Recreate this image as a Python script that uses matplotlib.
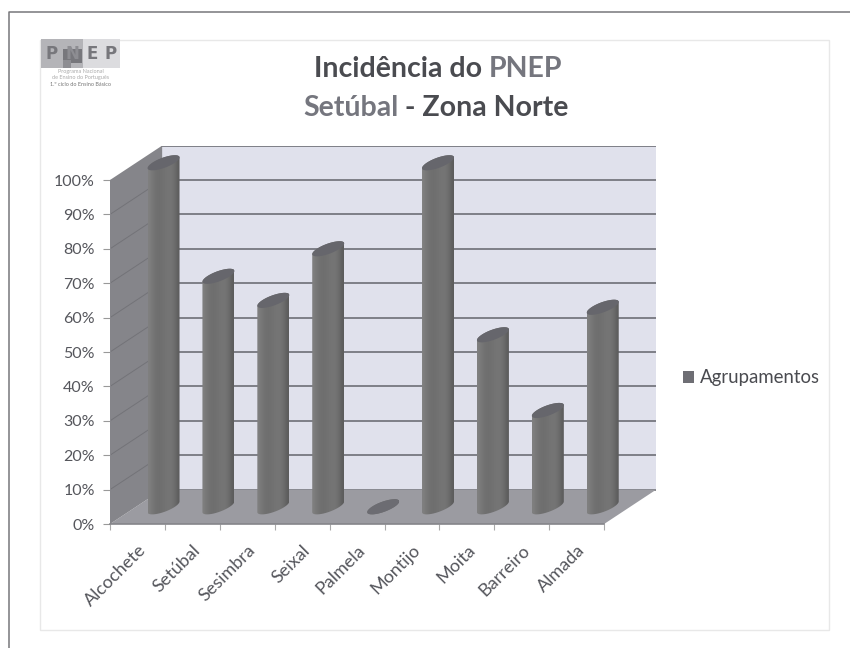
import numpy as np
import matplotlib
matplotlib.use('Agg')
import matplotlib.pyplot as plt
from matplotlib.patches import Polygon, Rectangle, Patch, PathPatch
from matplotlib.path import Path

plt.rcParams['font.family'] = ['Lato', 'DejaVu Sans']

# values
concelhos = ['Alcochete', 'Setúbal', 'Sesimbra', 'Seixal', 'Palmela',
             'Montijo', 'Moita', 'Barreiro', 'Almada']
agrupamentos = [100, 67, 60, 75, 0, 100, 50, 28, 58]
ticks_pct = [0, 10, 20, 30, 40, 50, 60, 70, 80, 90, 100]

W, H = 850, 648
TXT = '#55565c'
DARK = '#4a4b50'
GREY = '#75767e'

fig = plt.figure(figsize=(W / 100, H / 100), dpi=100, facecolor='white')

# page frame and logo, pixel coords
page = fig.add_axes([0, 0, 1, 1], zorder=0)
page.set_xlim(0, W)
page.set_ylim(H, 0)
page.axis('off')
page.plot([9, 9, W], [H, 12, 12], color='#77777a', lw=1.1)
page.add_patch(Rectangle((40, 40), 789, 590, fc='white', ec='#e8e8e8', lw=1))
page.add_patch(Rectangle((41, 39), 79, 29, fc='#dcdcdf', ec='none'))
page.add_patch(Rectangle((41, 39), 42, 29, fc='#b4b4b8', ec='none'))
page.add_patch(Rectangle((63, 49), 19, 14, fc='#77777c', ec='none'))
page.add_patch(Rectangle((63, 60), 8, 8, fc='#8d8d92', ec='none'))
for x, s, c in [(52, 'P', '#77777c'), (72, 'N', '#8d8d92'),
                (92, 'E', '#77777c'), (111, 'P', '#77777c')]:
    page.text(x, 54, s, fontsize=12, fontweight='bold', color=c,
              family='DejaVu Sans', ha='center', va='center')
for y, s, c in [(71, 'Programa Nacional', '#aaaaaa'),
                (78, 'de Ensino do Português', '#aaaaaa'),
                (84.5, '1.º ciclo do Ensino Básico', '#777777')]:
    page.text(80.5, y, s, fontsize=4, color=c, ha='center', va='center')

# titulo com duas cores
def title_line(x, y, parts):
    t = None
    for s, c in parts:
        if t is None:
            t = page.text(x, y, s, fontsize=20.5, fontweight='bold', color=c,
                          va='baseline')
        else:
            t = page.annotate(s, xy=(1, 0), xycoords=t, fontsize=20.5,
                              fontweight='bold', color=c, va='bottom')
    return t

title_line(314, 77, [('Incidência do ', DARK), ('PNEP', GREY)])
title_line(303, 116, [('Setúbal', GREY), (' - Zona Norte', DARK)])

# the 3D look: front plane is x 0..9, y 0..100, depth goes one step back
DX, DY = 0.95, 10
n = len(concelhos)
x0, cat, y0, pct = 110, 54.9, 524, 3.44
ax = fig.add_axes([x0 / W, 1 - y0 / H, cat * (n + DX) / W, pct * (100 + DY) / H],
                  zorder=1)
ax.set_xlim(0, n + DX)
ax.set_ylim(0, 100 + DY)
ax.patch.set_alpha(0)
for s in ['top', 'right', 'left', 'bottom']:
    ax.spines[s].set_visible(False)

ax.add_patch(Polygon([(DX, DY), (n + DX, DY), (n + DX, 100 + DY), (DX, 100 + DY)],
                     fc='#e0e1ec', ec='none', zorder=1))
for v in ticks_pct:
    ax.plot([DX, n + DX], [v + DY, v + DY], color='#6d6e76', lw=1.2, zorder=2)
ax.add_patch(Polygon([(0, 0), (n, 0), (n + DX, DY), (DX, DY)],
                     fc='#9b9ba1', ec='none', zorder=3))
ax.add_patch(Polygon([(0, 0), (DX, DY), (DX, 100 + DY), (0, 100)],
                     fc='#85858a', ec='none', zorder=3))
for v in ticks_pct[1:-1]:
    ax.plot([0, DX], [v, v + DY], color='#737378', lw=0.7, zorder=4)
ax.plot([0, n], [0, 0], color='#85858a', lw=1.2, zorder=4, clip_on=False)
ax.plot([0, 0], [0, 100], color='#85858a', lw=0.8, zorder=4)

# cylinders
RX, SX, SY = 0.206, 0.206, 2.2
shade = np.array([[0.50, 0.46, 0.44, 0.43, 0.44, 0.45, 0.46, 0.45, 0.42, 0.36]])


def rim(cx, v, t):
    return np.column_stack([cx + RX * np.cos(t) + SX * np.sin(t), v + SY * np.sin(t)])


for i, v in enumerate(agrupamentos):
    cx = i + 0.5 + DX / 2
    cy = DY / 2
    low = rim(cx, cy, np.linspace(np.pi / 4, np.pi / 4 - np.pi, 40))
    up = rim(cx, cy + v, np.linspace(np.pi / 4 - np.pi, np.pi / 4 - 2 * np.pi, 40))
    body = Path(np.vstack([low, up, low[:1]]), closed=True)
    hw = np.hypot(RX, SX)
    im = ax.imshow(shade, cmap='gray', vmin=0, vmax=1, aspect='auto',
                   interpolation='bicubic', zorder=5 + i,
                   extent=(cx - hw, cx + hw, cy - SY * 2, cy + v + SY * 2))
    im.set_clip_path(PathPatch(body, transform=ax.transData))
    top = rim(cx, cy + v, np.linspace(0, 2 * np.pi, 60))
    ax.add_patch(Polygon(top, fc='#66666c' if v > 0 else '#6c6c72', ec='none',
                         zorder=5 + i))
ax.set_xlim(0, n + DX)
ax.set_ylim(0, 100 + DY)

ax.set_yticks(ticks_pct)
ax.set_yticklabels([f'{v}%' for v in ticks_pct], fontsize=11.5, color=TXT)
ax.tick_params(axis='y', length=5, width=0.8, color='#999999', pad=6)
ax.set_xticks(range(n + 1))
ax.set_xticklabels([])
ax.tick_params(axis='x', which='major', length=4, width=0.8, color='#aaaaaa')
ax.set_xticks(np.arange(n) + 0.5, minor=True)
ax.set_xticklabels(concelhos, minor=True, rotation=45, ha='right',
                   rotation_mode='anchor', fontsize=13, color=TXT)
ax.tick_params(axis='x', which='minor', length=0, pad=13)

fig.legend(handles=[Patch(fc='#6e6e74', ec='none', label='Agrupamentos')],
           loc='center left', bbox_to_anchor=(683 / W, 1 - 378 / H), frameon=False,
           fontsize=13.4, labelcolor=DARK, handlelength=0.6, handleheight=0.6,
           handletextpad=0.3, borderpad=0, borderaxespad=0)

fig.savefig('out.png', dpi=100)
